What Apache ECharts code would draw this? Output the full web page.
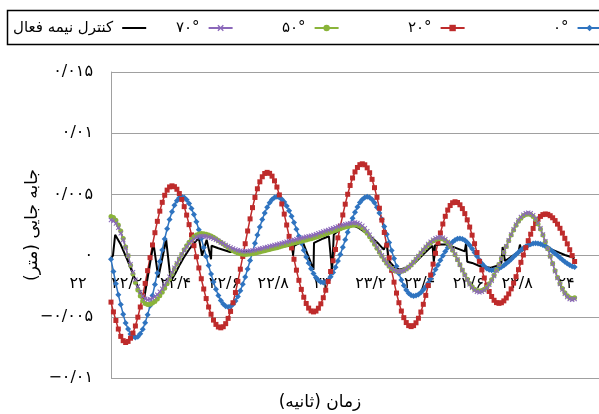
<!DOCTYPE html>
<html><head><meta charset="utf-8">
<script src="https://cdn.jsdelivr.net/npm/echarts@6/dist/echarts.min.js"></script>
<style>html,body{margin:0;padding:0;background:#fff}#c{width:599px;height:414px}</style>
</head><body><div id="c"></div>
<script>
// time samples for the marker series (seconds)
const sampleStart = 22.00;
const sampleStep = 0.01;

// displacement in millimetres (axis labels shown in metres)
const disp0 = [-0.3,-1.3,-2.3,-3.2,-4.0,-4.8,-5.5,-6.0,-6.4,-6.6,
-6.7,-6.62,-6.39,-6.01,-5.49,-4.84,-4.10,-3.26,-2.36,-1.42,
-0.48,0.46,1.36,2.19,2.94,3.59,4.11,4.49,4.72,4.8,
4.74,4.56,4.26,3.85,3.35,2.76,2.11,1.40,0.67,-0.07,
-0.80,-1.51,-2.16,-2.75,-3.25,-3.66,-3.96,-4.14,-4.2,
-4.14,-3.98,-3.71,-3.34,-2.88,-2.35,-1.74,-1.09,-0.40,0.3,1.00,1.69,2.34,2.95,3.48,3.94,4.31,4.58,4.74,4.8,
4.75,4.61,4.38,4.06,3.67,3.21,2.71,2.16,1.59,1.01,0.44,-0.11,-0.61,-1.07,-1.46,-1.78,-2.01,-2.15,-2.2,
-2.15,-1.99,-1.73,-1.38,-0.95,-0.45,0.10,0.69,1.3,1.91,2.50,3.05,3.55,3.98,4.33,4.59,4.75,4.8,
4.74,4.58,4.31,3.95,3.49,2.97,2.38,1.74,1.08,0.42,-0.24,-0.88,-1.46,-1.99,-2.45,-2.81,-3.08,-3.24,-3.3,
-3.27,-3.17,-3.02,-2.80,-2.54,-2.24,-1.89,-1.53,-1.14,-0.76,-0.37,-0.01,0.34,0.64,0.90,1.12,1.27,1.37,1.4,
1.36,1.25,1.07,0.84,0.56,0.26,-0.06,-0.36,-0.64,-0.87,-1.05,-1.16,-1.2,
-1.18,-1.13,-1.05,-0.94,-0.81,-0.65,-0.48,-0.29,-0.1,0.09,0.28,0.45,0.61,0.74,0.85,0.93,0.98,1.0,
0.98,0.94,0.87,0.77,0.64,0.5,0.34,0.17,0,-0.17,-0.34,-0.5,-0.64,-0.77,-0.87,-0.94];

const disp20 = [-3.8,-4.6,-5.3,-6.0,-6.6,-6.95,
-7.1,-7.01,-6.75,-6.33,-5.75,-5.03,-4.20,-3.27,-2.27,-1.23,-0.17,0.87,1.87,2.80,3.63,4.35,4.93,5.35,5.61,
5.7,5.63,5.42,5.07,4.59,4.00,3.31,2.53,1.69,0.81,-0.1,-1.01,-1.89,-2.73,-3.51,-4.20,-4.79,-5.27,-5.62,-5.83,
-5.9,-5.81,-5.56,-5.13,-4.56,-3.85,-3.02,-2.10,-1.11,-0.07,0.97,2.01,3.00,3.92,4.75,5.46,6.03,6.44,6.71,
6.8,6.72,6.49,6.11,5.60,4.96,4.22,3.39,2.50,1.57,0.63,-0.30,-1.19,-2.02,-2.76,-3.40,-3.91,-4.29,-4.52,
-4.6,-4.53,-4.30,-3.94,-3.44,-2.83,-2.11,-1.30,-0.42,0.50,1.45,2.40,3.32,4.20,5.01,5.73,6.34,6.84,7.20,7.43,
7.5,7.42,7.17,6.77,6.23,5.55,4.76,3.87,2.90,1.89,0.85,-0.19,-1.20,-2.17,-3.06,-3.85,-4.53,-5.07,-5.47,-5.72,
-5.8,-5.72,-5.49,-5.12,-4.61,-3.98,-3.25,-2.44,-1.59,-0.7,0.19,1.04,1.85,2.58,3.21,3.72,4.09,4.32,
4.4,4.34,4.15,3.84,3.43,2.92,2.33,1.67,0.97,0.25,-0.47,-1.17,-1.83,-2.42,-2.93,-3.34,-3.65,-3.84,
-3.9,-3.85,-3.70,-3.46,-3.13,-2.72,-2.25,-1.72,-1.15,-0.55,0.05,0.65,1.22,1.75,2.22,2.63,2.96,3.20,3.35,
3.4,3.37,3.26,3.09,2.86,2.57,2.23,1.84,1.41,0.96,0.48,0,-0.48];

const disp50 = [3.2,3.12,2.89,2.51,2.01,1.4,0.71,-0.02,-0.78,-1.51,-2.2,-2.81,-3.31,-3.69,-3.92,-4.0,
-3.97,-3.88,-3.74,-3.54,-3.29,-3.0,-2.67,-2.30,-1.92,-1.51,-1.1,-0.69,-0.28,0.10,0.47,0.80,1.09,1.34,1.54,1.68,1.77,1.8,
1.79,1.75,1.69,1.60,1.50,1.38,1.24,1.10,0.95,0.80,0.66,0.53,0.40,0.30,0.21,0.15,0.11,0.1,
0.11,0.13,0.16,0.2,0.25,0.3,0.35,0.4,0.45,0.5,0.55,0.6,0.65,0.7,0.76,0.82,0.88,0.93,0.98,1.03,
1.08,1.13,1.18,1.23,1.28,1.33,1.38,1.44,1.5,1.57,1.64,1.71,1.78,1.85,1.92,1.99,2.06,2.13,2.2,2.27,
2.33,2.38,2.43,2.47,2.5,
2.47,2.39,2.25,2.06,1.82,1.55,1.25,0.93,0.6,0.27,-0.05,-0.35,-0.62,-0.86,-1.05,-1.19,-1.27,-1.3,
-1.28,-1.21,-1.10,-0.95,-0.76,-0.55,-0.32,-0.07,0.17,0.42,0.65,0.86,1.05,1.20,1.31,1.38,1.4,
1.36,1.24,1.04,0.77,0.44,0.07,-0.33,-0.75,-1.17,-1.57,-1.94,-2.27,-2.54,-2.74,-2.86,-2.9,
-2.86,-2.75,-2.56,-2.30,-1.98,-1.60,-1.18,-0.72,-0.24,0.25,0.74,1.22,1.68,2.10,2.48,2.80,3.06,3.25,3.36,3.4,
3.35,3.19,2.94,2.59,2.17,1.68,1.13,0.55,-0.05,-0.65,-1.23,-1.78,-2.27,-2.69,-3.04,-3.29,-3.45,-3.5,-3.45];

const disp70 = [2.9,2.83,2.62,2.28,1.83,1.28,0.65,-0.02,-0.70,-1.36,-1.98,-2.53,-2.98,-3.32,-3.53,-3.6,
-3.57,-3.49,-3.36,-3.19,-2.96,-2.70,-2.41,-2.08,-1.73,-1.37,-1.0,-0.63,-0.27,0.08,0.41,0.70,0.96,1.19,1.36,1.49,1.57,1.6,
1.59,1.56,1.52,1.45,1.38,1.29,1.19,1.08,0.98,0.87,0.76,0.66,0.57,0.50,0.43,0.39,0.36,0.35,
0.36,0.39,0.42,0.46,0.51,0.56,0.61,0.66,0.71,0.76,0.81,0.86,0.91,0.96,1.01,1.07,1.13,1.18,1.23,1.28,
1.33,1.38,1.43,1.48,1.53,1.58,1.63,1.69,1.75,1.82,1.89,1.96,2.03,2.10,2.17,2.24,2.31,2.38,2.45,2.51,
2.56,2.61,2.65,2.68,2.7,
2.67,2.58,2.43,2.23,1.99,1.70,1.38,1.05,0.7,0.35,0.02,-0.3,-0.59,-0.83,-1.03,-1.18,-1.27,-1.3,
-1.28,-1.21,-1.09,-0.93,-0.74,-0.52,-0.28,-0.03,0.23,0.48,0.72,0.94,1.13,1.29,1.41,1.48,1.5,
1.46,1.33,1.12,0.84,0.50,0.11,-0.31,-0.75,-1.19,-1.61,-2.0,-2.34,-2.62,-2.83,-2.96,-3.0,
-2.96,-2.84,-2.65,-2.38,-2.05,-1.66,-1.23,-0.75,-0.26,0.25,0.76,1.25,1.73,2.16,2.55,2.88,3.15,3.34,3.46,3.5,
3.45,3.29,3.04,2.67,2.23,1.73,1.17,0.57,-0.05,-0.67,-1.27,-1.83,-2.33,-2.77,-3.12,-3.38,-3.54,-3.6,-3.55];

// semi-active control: [time, mm]
const dispControl = [[22.00,-0.2],[22.008,0.0],[22.017,1.7],[22.04,0.9],[22.07,-0.5],[22.10,-2.0],[22.117,-2.9],[22.136,-3.5],
[22.174,1.0],[22.194,-1.8],[22.226,1.3],[22.245,-2.1],[22.265,-1.4],[22.283,-0.7],[22.30,-0.1],[22.32,0.5],[22.34,1.0],[22.36,1.45],
[22.365,1.5],[22.373,0.0],[22.392,1.3],[22.41,-0.3],[22.412,0.8],[22.44,0.6],[22.488,0.3],[22.53,0.3],[22.586,0.35],[22.65,0.55],
[22.714,0.76],[22.744,0.8],[22.746,0.0],[22.75,0.8],[22.785,1.17],[22.83,-1.15],[22.832,1.04],[22.87,1.4],[22.893,1.58],[22.906,-1.28],
[22.913,1.72],[22.94,2.15],[22.97,2.45],[23.00,2.4],[23.015,2.27],[23.05,1.8],[23.09,1.1],[23.118,0.49],[23.13,1.1],[23.137,-0.4],
[23.16,-0.9],[23.182,-1.15],[23.21,-1.0],[23.25,-0.5],[23.28,0.1],[23.30,0.5],[23.318,0.8],[23.323,-0.5],[23.328,0.85],[23.35,0.9],
[23.374,0.9],[23.41,0.65],[23.45,0.35],[23.455,1.0],[23.46,-0.5],[23.48,-0.6],[23.51,-0.85],[23.554,-1.0],[23.58,-0.85],[23.60,-0.6],
[23.605,0.7],[23.615,-0.45],[23.64,-0.1],[23.67,0.3],[23.676,0.9],[23.682,0.35],[23.71,0.8],[23.733,1.04],[23.77,0.85],[23.80,0.55],
[23.83,0.3],[23.86,0.05],[23.90,-0.2]];

const seriesNames = ['۰°', '۲۰°', '۵۰°', '۷۰°', 'کنترل نیمه فعال'];
const xTickLabels = ['۲۲','۲۲/۲','۲۲/۴','۲۲/۶','۲۲/۸','۲۳','۲۳/۲','۲۳/۴','۲۳/۶','۲۳/۸','۲۴'];
const yTickLabels = ['−۰/۰۱','−۰/۰۰۵','۰','۰/۰۰۵','۰/۰۱','۰/۰۱۵'];
const xTitle = 'زمان (ثانیه)\u200F';
const yTitle = '\u200Fجابه جایی (متر)\u200F';

const xMin = 22, xMax = 24, xInt = 0.2;
const yMin = -10, yMax = 15, yInt = 5;

function withTime(arr) {
  return arr.map((v, i) => [Math.round((sampleStart + i * sampleStep) * 1000) / 1000, v]);
}

const font = 'DejaVu Sans';
const colors = ['#2F74C0', '#BE2B2B', '#8AB43A', '#8B68BA', '#000000'];
const xSym = 'path://M0,1.5L1.5,0L5,3.5L8.5,0L10,1.5L6.5,5L10,8.5L8.5,10L5,6.5L1.5,10L0,8.5L3.5,5Z';

function markerSeries(name, data, color, symbol, size) {
  return {
    name, type: 'line', data: withTime(data), symbol, symbolSize: size,
    showAllSymbol: true, showSymbol: true,
    lineStyle: { color, width: 1.5 },
    itemStyle: { color, borderWidth: 0 },
    emphasis: { disabled: true }, animation: false
  };
}

const chart = echarts.init(document.getElementById('c'), null, { renderer: 'canvas' });

const gridTop = 72, gridBottom = 36;
const plotH = 414 - gridTop - gridBottom;
// x axis crosses the y axis at zero
const zeroOffset = -plotH * (0 - yMin) / (yMax - yMin);

const legendLefts = [553, 408, 282, 176, 13];
const legends = seriesNames.map((n, i) => ({
  data: [i === 4 ? { name: n, icon: 'rect' } : n],
  left: legendLefts[i], top: 18, orient: 'horizontal', align: 'right',
  itemWidth: 24, itemHeight: i === 4 ? 2 : 8, itemGap: 0, padding: 0, selectedMode: false,
  textStyle: { fontFamily: font, fontSize: 15, color: '#000', lineHeight: 20, padding: [0, 4, 0, 0] }
}));

chart.setOption({
  animation: false,
  backgroundColor: '#fff',
  color: colors,
  legend: legends,
  grid: { left: 111, right: -32, top: gridTop, bottom: gridBottom, containLabel: false },
  xAxis: {
    type: 'value', min: xMin, max: xMax, interval: xInt,
    offset: zeroOffset,
    axisLine: { show: true, onZero: false, lineStyle: { color: '#a0a0a0', width: 1 } },
    axisTick: { show: false },
    splitLine: { show: false },
    axisLabel: {
      fontFamily: font, fontSize: 16, color: '#000', margin: 20,
      padding: [0, 66, 0, 0],
      formatter: v => xTickLabels[Math.round((v - xMin) / xInt)] || ''
    }
  },
  yAxis: {
    type: 'value', min: yMin, max: yMax, interval: yInt,
    axisLine: { show: true, onZero: false, lineStyle: { color: '#a0a0a0', width: 1 } },
    axisTick: { show: false },
    splitLine: { show: true, lineStyle: { color: '#a0a0a0', width: 1 } },
    axisLabel: {
      fontFamily: font, fontSize: 16, color: '#000', margin: 18,
      formatter: v => yTickLabels[Math.round((v - yMin) / yInt)] || ''
    },
    name: yTitle, nameLocation: 'middle', nameRotate: 90, nameGap: 70,
    nameMoveOverlap: false,
    nameTextStyle: { fontFamily: font, fontSize: 17, color: '#000' }
  },
  graphic: [
    { type: 'rect', shape: { x: 7.5, y: 10.5, width: 640, height: 34 },
      style: { fill: 'none', stroke: '#000', lineWidth: 1.5 }, silent: true },
    { type: 'text', x: 320, y: 403,
      style: { text: xTitle, font: '17px "DejaVu Sans"', fill: '#000', textAlign: 'center', textVerticalAlign: 'middle' }, silent: true }
  ],
  series: [
    markerSeries(seriesNames[0], disp0, colors[0], 'diamond', 6),
    markerSeries(seriesNames[1], disp20, colors[1], 'rect', 5),
    markerSeries(seriesNames[2], disp50, colors[2], 'circle', 5),
    markerSeries(seriesNames[3], disp70, colors[3], xSym, 5),
    { name: seriesNames[4], type: 'line', data: dispControl, symbol: 'none', showSymbol: false,
      lineStyle: { color: colors[4], width: 2 }, itemStyle: { color: colors[4] },
      emphasis: { disabled: true }, animation: false }
  ]
});
</script></body></html>
